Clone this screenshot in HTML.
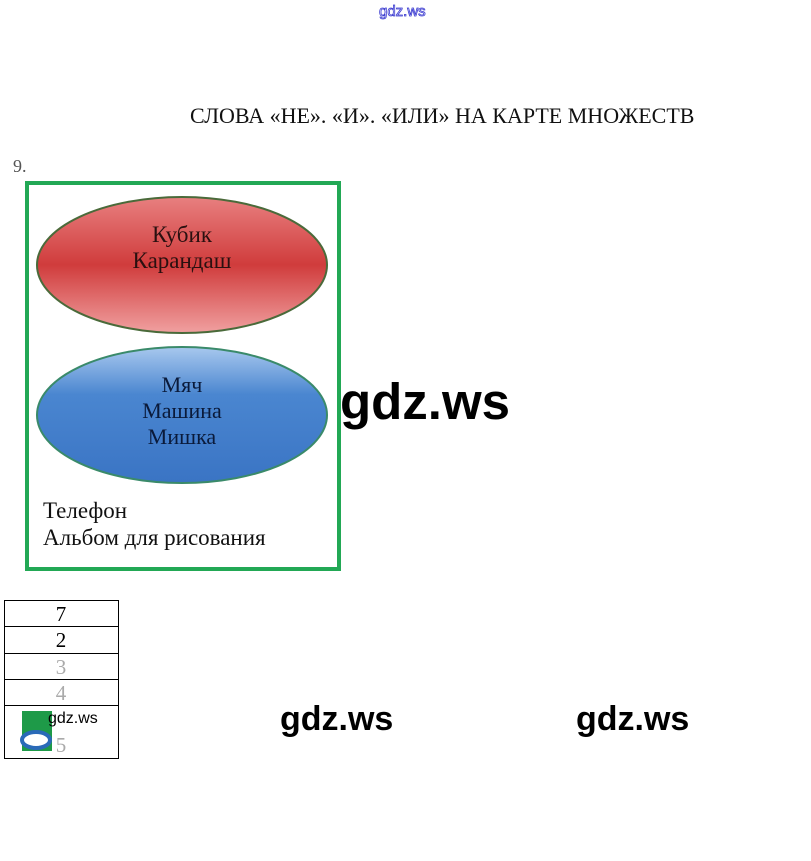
<!DOCTYPE html>
<html><head><meta charset="utf-8"><style>
body{margin:0;width:811px;height:861px;background:#fff;position:relative;overflow:hidden;font-family:"Liberation Serif",serif;}
.a{position:absolute;white-space:nowrap;}
.wm{font-family:"Liberation Sans","DejaVu Sans",sans-serif;font-weight:bold;color:#000;}
</style></head><body>
<div class="a" style="left:379px;top:3px;font-family:'Liberation Sans',sans-serif;font-size:15px;color:#fff;-webkit-text-stroke:0.8px #3a3ad0;">gdz.ws</div>
<div class="a" style="left:190px;top:103px;font-size:22px;color:#111;letter-spacing:0px;">СЛОВА «НЕ». «И». «ИЛИ» НА КАРТЕ МНОЖЕСТВ</div>
<div class="a" style="left:13px;top:156px;font-size:18px;color:#555;">9.</div>
<svg class="a" style="left:0;top:0" width="811" height="861">
<defs>
<linearGradient id="r" x1="0" y1="0" x2="0" y2="1"><stop offset="0" stop-color="#e88080"/><stop offset="0.5" stop-color="#d03c3c"/><stop offset="1" stop-color="#f0a0a0"/></linearGradient>
<linearGradient id="b" x1="0" y1="0" x2="0" y2="1"><stop offset="0" stop-color="#a8c8ee"/><stop offset="0.35" stop-color="#4a86d0"/><stop offset="1" stop-color="#3a74c4"/></linearGradient>
</defs>
<rect x="27" y="183" width="312" height="386" fill="none" stroke="#22a855" stroke-width="4"/>
<ellipse cx="182" cy="265" rx="145" ry="68" fill="url(#r)" stroke="#4a6a3a" stroke-width="2"/>
<ellipse cx="182" cy="415" rx="145" ry="68" fill="url(#b)" stroke="#3a8a6a" stroke-width="2"/>
<rect x="4.5" y="600.5" width="114" height="158" fill="none" stroke="#000"/>
<line x1="4" y1="626.5" x2="118" y2="626.5" stroke="#000"/>
<line x1="4" y1="653.5" x2="118" y2="653.5" stroke="#000"/>
<line x1="4" y1="679.5" x2="118" y2="679.5" stroke="#000"/>
<line x1="4" y1="705.5" x2="118" y2="705.5" stroke="#000"/>
<rect x="22" y="711" width="30" height="40" fill="#1e9a48"/>
<ellipse cx="36" cy="740" rx="14" ry="8" fill="#fff" stroke="#2a6ab8" stroke-width="4"/>
</svg>
<div class="a" style="left:0;top:222px;width:364px;text-align:center;font-size:23px;line-height:26px;color:#2a1010;">Кубик<br>Карандаш</div>
<div class="a" style="left:0;top:372px;width:364px;text-align:center;font-size:22px;line-height:26px;color:#0a1a3a;">Мяч<br>Машина<br>Мишка</div>
<div class="a" style="left:43px;top:497px;font-size:23px;line-height:27px;color:#111;">Телефон<br>Альбом для рисования</div>
<div class="a" style="left:4px;top:601px;width:114px;text-align:center;font-size:21px;line-height:26px;">7</div>
<div class="a" style="left:4px;top:627px;width:114px;text-align:center;font-size:21px;line-height:26px;">2</div>
<div class="a" style="left:4px;top:654px;width:114px;text-align:center;font-size:21px;line-height:26px;color:#aaa;">3</div>
<div class="a" style="left:4px;top:680px;width:114px;text-align:center;font-size:21px;line-height:26px;color:#aaa;">4</div>
<div class="a" style="left:4px;top:732px;width:114px;text-align:center;font-size:21px;line-height:26px;color:#aaa;">5</div>
<div class="a wm" style="left:48px;top:710px;font-size:16px;font-weight:normal;">gdz.ws</div>
<div class="a wm" style="left:340px;top:372px;font-size:51px;">gdz.ws</div>
<div class="a wm" style="left:280px;top:700px;font-size:34px;">gdz.ws</div>
<div class="a wm" style="left:576px;top:700px;font-size:34px;">gdz.ws</div>
</body></html>
